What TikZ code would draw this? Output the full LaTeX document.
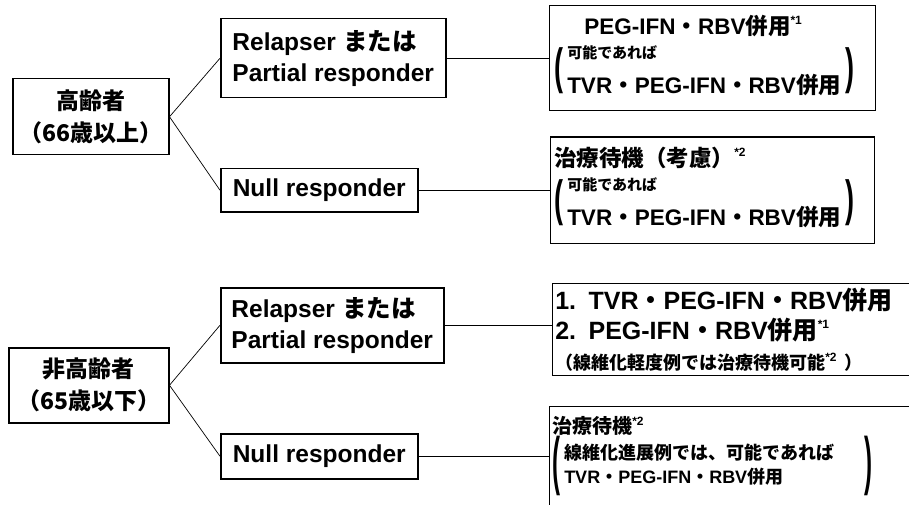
\documentclass[tikz,border=0pt]{standalone}
\usepackage{fontspec}
\setmainfont{Liberation Sans}
\newfontfamily\jpfont{Noto Sans CJK JP}
\usepackage{graphicx}
\usepackage{tikz}
\usetikzlibrary{positioning}
\newcommand{\jp}[1]{{\jpfont #1}}
\newcommand{\nakaguro}{\jp{・}}
\newcommand{\fnote}[1]{\raisebox{0.42em}{\fontsize{12}{12}\selectfont *#1}}
\newcommand{\bigL}[1]{$\vcenter{\hbox{\scalebox{1.2}[#1]{(}}}$\hspace{4pt}}
\newcommand{\bigR}[1]{\hspace{4pt}$\vcenter{\hbox{\scalebox{1.2}[#1]{)}}}$}
\tikzstyle{agebox} = [rectangle, draw=black, line width=1.5pt, align=center, anchor=north west, minimum height=76pt, inner sep=2pt, font=\bfseries\fontsize{23}{32}\selectfont]
\tikzstyle{respbox} = [rectangle, draw=black, line width=1.5pt, align=left, anchor=north west, inner sep=3pt, font=\bfseries\fontsize{24.5}{31}\selectfont]
\tikzstyle{treatbox} = [rectangle, draw=black, line width=1.5pt, align=left, inner sep=3pt, font=\bfseries\fontsize{22.5}{27}\selectfont]
\tikzstyle{link} = [line width=0.7pt]

\begin{document}
\begin{tikzpicture}[x=1pt, y=-1pt, node distance=100pt]
  \useasboundingbox (0,0) rectangle (909,505);
  \node (old) [agebox, minimum width=156pt] at (12,78) {\jp{高齢者}\\\jp{（66歳以上）}};
  \node (young) [agebox, minimum width=160pt, minimum height=75pt] at (8,347) {\jp{非高齢者}\\\jp{（65歳以下）}};
  \node (rel1) [respbox, minimum width=225pt, minimum height=79pt] at (220,18) {Relapser\hspace{0.3em}\jp{または}\\Partial responder};
  \node (null1) [respbox, minimum width=197pt, minimum height=43pt] at (220,168) {Null responder};
  \node (rel2) [respbox, minimum width=223pt, minimum height=75pt] at (220,287) {Relapser\hspace{0.3em}\jp{または}\\Partial responder};
  \node (null2) [respbox, minimum width=197pt, minimum height=45pt] at (220,433) {Null responder};
  \node (peg) [treatbox, right=102pt of rel1, minimum width=326pt, minimum height=105pt, text width=316pt] {\hspace*{30pt}PEG-IFN\nakaguro RBV\jp{併用}\fnote{1}\\[2pt]
    \bigL{2.2}\begin{tabular}{@{}l@{}}{\fontsize{15}{15}\selectfont\jp{可能であれば}}\\[8pt]TVR\nakaguro PEG-IFN\nakaguro RBV\jp{併用}\end{tabular}\bigR{2.2}};
  \node (wait1) [treatbox, right=131pt of null1, minimum width=324pt, minimum height=106pt, text width=316pt] {\jp{治療待機（考慮）}\fnote{2}\\[2pt]
    \bigL{2.2}\begin{tabular}{@{}l@{}}{\fontsize{15}{15}\selectfont\jp{可能であれば}}\\[8pt]TVR\nakaguro PEG-IFN\nakaguro RBV\jp{併用}\end{tabular}\bigR{2.2}};
  \node (seq) [treatbox, right=107pt of rel2, yshift=-4pt, minimum width=400pt, minimum height=92pt, text width=394pt, font=\bfseries\fontsize{25}{30}\selectfont] {1. TVR\nakaguro PEG-IFN\nakaguro RBV\jp{併用}\\2. PEG-IFN\nakaguro RBV\jp{併用}\fnote{1}\\
    {\fontsize{18}{20}\selectfont\jp{（線維化軽度例では治療待機可能}\fnote{2}\ \jp{）}}};
  \node (wait2) [treatbox, right=130pt of null2, minimum width=400pt, minimum height=100pt, text width=394pt, font=\bfseries\fontsize{20}{24}\selectfont] {\jp{治療待機}\fnote{2}\\
    \bigL{3.2}\begin{tabular}{@{}l@{}}{\fontsize{18}{20}\selectfont\jp{線維化進展例では、可能であれば}}\\[0pt]{\fontsize{18}{20}\selectfont TVR\nakaguro PEG-IFN\nakaguro RBV\jp{併用}}\end{tabular}\hspace{26pt}\bigR{3.2}};
  \draw [link] (old.east) -- (rel1.west);
  \draw [link] (old.east) -- (null1.west);
  \draw [link] (young.east) -- (rel2.west);
  \draw [link] (young.east) -- (null2.west);
  \draw [link] (rel1.east) -- (peg.west);
  \draw [link] (null1.east) -- (wait1.west);
  \draw [link] (rel2.east) -- (rel2.east -| seq.west);
  \draw [link] (null2.east) -- (wait2.west);
\end{tikzpicture}
\end{document}
